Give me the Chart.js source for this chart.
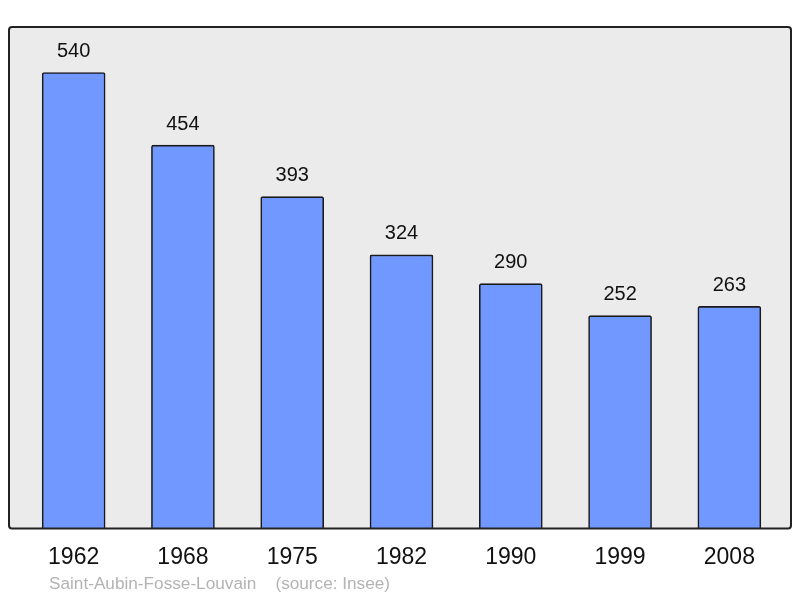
<!DOCTYPE html>
<html>
<head>
<meta charset="utf-8">
<script src="https://cdn.jsdelivr.net/npm/chart.js@4/dist/chart.umd.min.js"></script>
<style>
  html, body { margin: 0; padding: 0; background: #fff; }
  #wrap { width: 800px; height: 598px; }
</style>
</head>
<body>
<div id="wrap"><canvas id="graphique"></canvas></div>
<script>
const annees = ["1962", "1968", "1975", "1982", "1990", "1999", "2008"];
const population = [540, 454, 393, 324, 290, 252, 263];
const yMax = 594;
const legende = "Saint-Aubin-Fosse-Louvain    (source: Insee)";

// fond gris + cadre autour de la zone du graphique
const cadre = {
  id: "cadre",
  beforeDraw(chart) {
    const { ctx, chartArea: a } = chart;
    const x = a.left - 10, y = a.top, w = a.right + 7 - x, h = a.bottom - a.top;
    ctx.save();
    ctx.beginPath();
    ctx.roundRect(x, y, w, h, 3);
    ctx.fillStyle = "#ebebeb";
    ctx.fill();
    ctx.restore();
  },
  afterDatasetsDraw(chart) {
    const { ctx, chartArea: a } = chart;
    const x = a.left - 10, y = a.top, w = a.right + 7 - x, h = a.bottom - a.top;
    ctx.save();
    ctx.beginPath();
    ctx.roundRect(x, y, w, h, 3);
    ctx.lineWidth = 2;
    ctx.strokeStyle = "#222";
    ctx.stroke();
    // valeurs au-dessus des barres
    const meta = chart.getDatasetMeta(0);
    ctx.fillStyle = "#111";
    ctx.font = "20px 'Liberation Sans', Arial, sans-serif";
    ctx.textAlign = "center";
    ctx.textBaseline = "middle";
    meta.data.forEach((bar, i) => {
      ctx.fillText(String(population[i]), bar.x, bar.y - 21);
    });
    // source
    ctx.fillStyle = "#b3b3b3";
    ctx.font = "17.2px 'Liberation Sans', Arial, sans-serif";
    ctx.textAlign = "left";
    ctx.fillText(legende, 49, 584);
    ctx.restore();
  }
};

new Chart(document.getElementById("graphique").getContext("2d"), {
  type: "bar",
  data: {
    labels: annees,
    datasets: [{
      data: population,
      backgroundColor: "#7098ff",
      borderColor: "#1a1a1a",
      borderWidth: 1.6,
      borderRadius: 2,
      borderSkipped: "bottom",
      barThickness: 63
    }]
  },
  options: {
    responsive: true,
    maintainAspectRatio: false,
    animation: false,
    layout: { padding: { left: 19, right: 16, top: 27, bottom: 20 } },
    plugins: { legend: { display: false }, tooltip: { enabled: false } },
    scales: {
      x: {
        grid: { display: false },
        border: { display: false },
        ticks: {
          color: "#111",
          padding: 7,
          font: { size: 23, family: "'Liberation Sans', Arial, sans-serif" }
        }
      },
      y: {
        display: false,
        min: 0,
        max: yMax
      }
    }
  },
  plugins: [cadre]
});
</script>
</body>
</html>
